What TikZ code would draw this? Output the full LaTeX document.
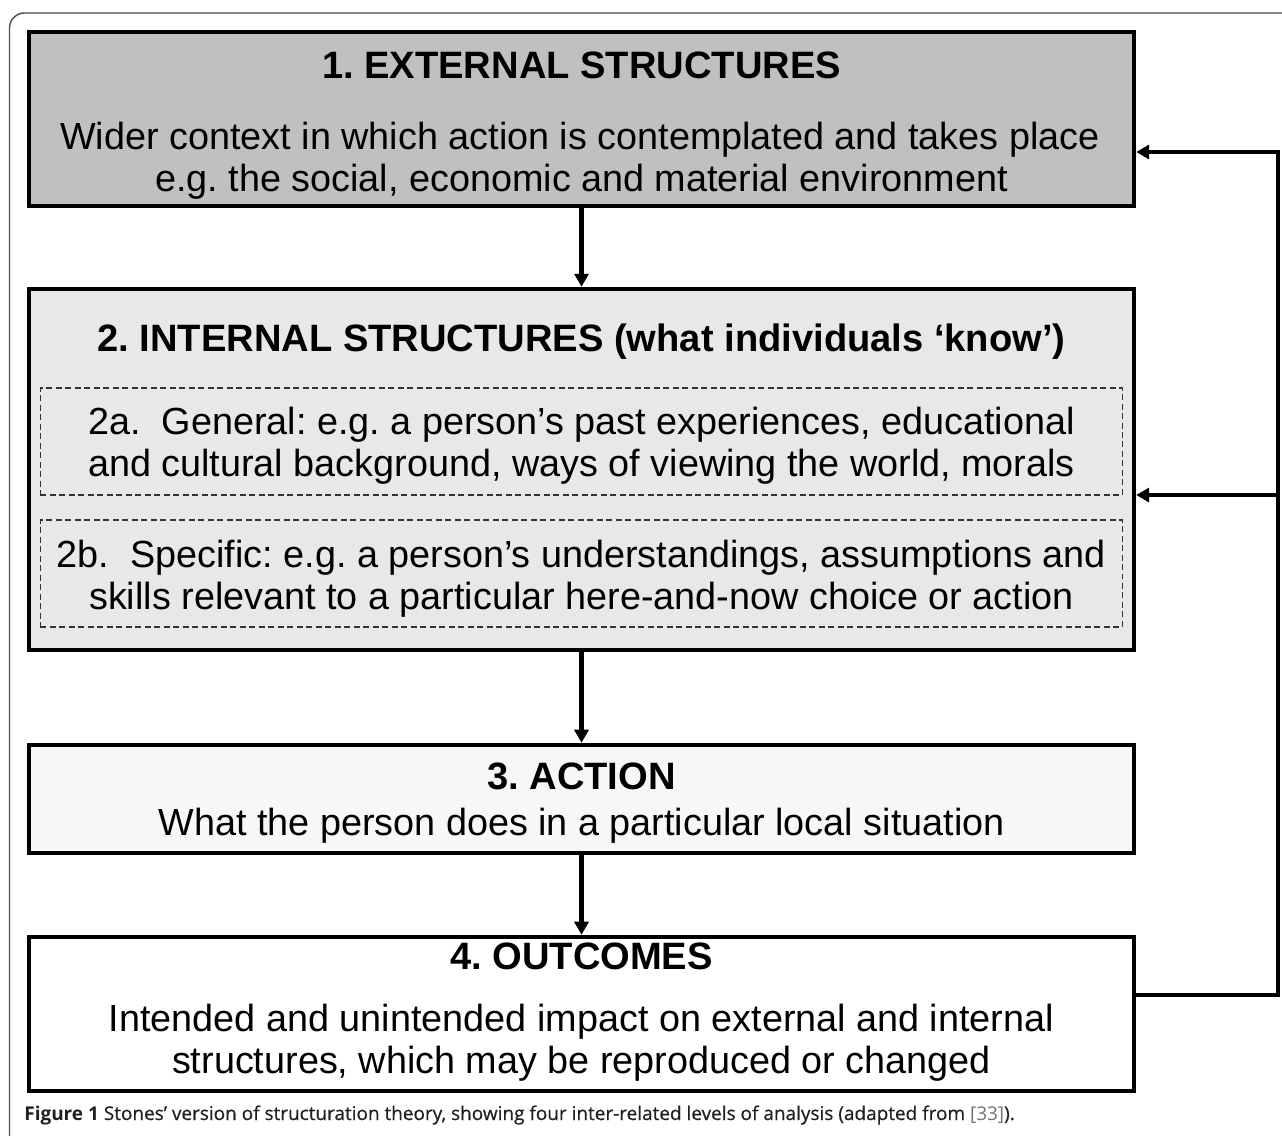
\documentclass[tikz,border=0pt]{standalone}
\usepackage{fontspec}
\usepackage{xcolor}
\setmainfont{Liberation Sans}
\newfontfamily\capfont[FakeBold=0.6]{Open Sans}
\newfontfamily\reffont{Open Sans}
\usetikzlibrary{arrows.meta}
\definecolor{fillext}{HTML}{C0C0C0}
\definecolor{fillint}{HTML}{E8E8E8}
\definecolor{fillact}{HTML}{F7F7F7}
\definecolor{capgray}{HTML}{231F20}
\frenchspacing

\begin{document}
\begin{tikzpicture}[x=0.02cm,y=-0.02cm,
  level/.style={draw=black, line width=2.6pt, minimum width=22.1cm, inner sep=0},
  sublevel/.style={draw=black!80, dashed, dash pattern=on 0.12cm off 0.07cm, line width=0.6pt, minimum width=21.66cm, minimum height=2.14cm, inner sep=0},
  head/.style={anchor=base, inner sep=0, font=\fontsize{21.7}{26}\selectfont\bfseries},
  body/.style={anchor=base, inner sep=0, font=\fontsize{21.5}{26}\selectfont},
  flow/.style={line width=2.6pt, -{Triangle[length=0.26cm, width=0.28cm]}},
  fbline/.style={line width=2.6pt}]
\useasboundingbox (0,0) rectangle (1282,1136);
\clip (0,0) rectangle (1282,1136);
\draw[black!70, line width=0.8pt, rounded corners=0.3cm] (9.5,13) rectangle (1320,1180);

\node[level, fill=fillext, minimum height=3.48cm] (ext) at (581.5,119) {};
\node[level, fill=fillint, minimum height=7.22cm] (int) at (581.5,469.5) {};
\node[sublevel] (gen) at (581.5,441.5) {};
\node[sublevel] (spec) at (581.5,573.5) {};
\node[level, fill=fillact, minimum height=2.16cm] (act) at (581.5,799) {};
\node[level, fill=white, minimum height=3.08cm] (out) at (581.5,1014) {};

\node[head] (exthead) at (581.5,78) {1. EXTERNAL STRUCTURES};
\node[body] (extone) at (580,149) {Wider context in which action is contemplated and takes place};
\node[body] (exttwo) at (581.5,191) {e.g. the social, economic and material environment};
\node[head] (inthead) at (581.5,351) {2. INTERNAL STRUCTURES (what individuals ‘know’)};
\node[body] (genone) at (581.5,434) {2a.\ \ General: e.g. a person’s past experiences, educational};
\node[body] (gentwo) at (581.5,476) {and cultural background, ways of viewing the world, morals};
\node[body] (specone) at (581.5,567) {2b.\ \ Specific: e.g. a person’s understandings, assumptions and};
\node[body] (spectwo) at (581.5,609) {skills relevant to a particular here-and-now choice or action};
\node[head] (acthead) at (581.5,789) {3. ACTION};
\node[body] (actone) at (581.5,835) {What the person does in a particular local situation};
\node[head] (outhead) at (581.5,969) {4. OUTCOMES};
\node[body] (outone) at (581.5,1031) {Intended and unintended impact on external and internal};
\node[body] (outtwo) at (581.5,1073) {structures, which may be reproduced or changed};

\draw[flow] (ext.south) -- (int.north);
\draw[flow] (int.south) -- (act.north);
\draw[flow] (act.south) -- (out.north);

\coordinate (fb) at (1278,995);
\coordinate (fbtop) at (1278,152);
\coordinate (fbmid) at (1278,495);
\draw[fbline, -{Triangle[length=0.26cm, width=0.28cm]}] (out.east |- fb) -- (fb) -- (fbtop) -- (ext.east |- fbtop);
\draw[flow] (fbmid) -- (int.east |- fbmid);

\node[anchor=base west, inner sep=0, text=capgray, font=\capfont\fontsize{10.8}{12}\selectfont] (cap) at (24,1120)
  {{\reffont\bfseries Figure 1} Stones’ version of structuration theory, showing four inter-related levels of analysis (adapted from {\reffont\color{black!55}[33]}).};
\end{tikzpicture}
\end{document}
